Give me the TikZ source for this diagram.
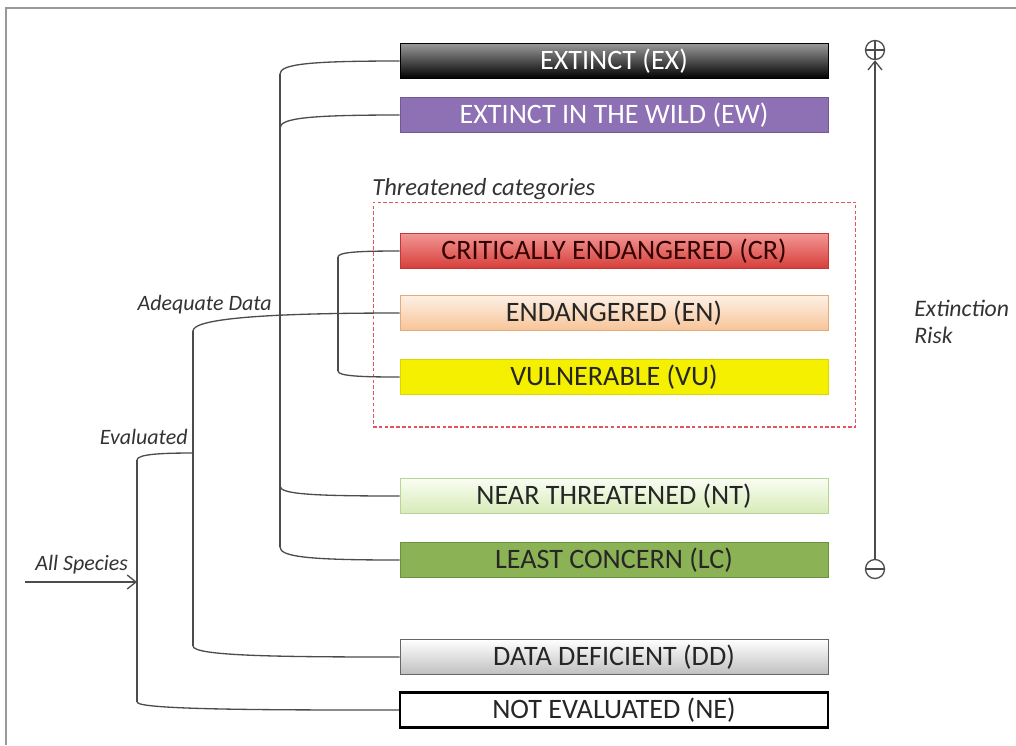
\documentclass[tikz,border=0pt]{standalone}
\usepackage{fontspec}
\setmainfont{Carlito}
\usepackage{tikz}
\usetikzlibrary{arrows.meta}
\usetikzlibrary{calc}

\definecolor{ewpurple}{RGB}{142,112,180}
\definecolor{crtop}{RGB}{242,150,148}
\definecolor{crbot}{RGB}{214,62,58}
\definecolor{entop}{RGB}{253,240,228}
\definecolor{enbot}{RGB}{247,196,152}
\definecolor{endraw}{RGB}{228,170,122}
\definecolor{vuyellow}{RGB}{245,240,0}
\definecolor{nttop}{RGB}{250,253,242}
\definecolor{ntbot}{RGB}{214,235,184}
\definecolor{ntdraw}{RGB}{185,212,148}
\definecolor{lcgreen}{RGB}{140,178,86}
\definecolor{lcdraw}{RGB}{108,144,60}
\definecolor{threatred}{RGB}{226,84,96}

\begin{document}
\begin{tikzpicture}[x=0.02cm, y=-0.02cm,
        box_style/.style={rectangle, draw, minimum width=8.56cm, minimum height=0.7cm, inner sep=0pt, font=\fontsize{16}{18}\selectfont, text=black!85},
        link_style/.style={draw=black!70, line width=0.75pt},
        label_style/.style={font=\fontsize{12.5}{14.5}\selectfont\itshape, inner sep=0pt, text=black!80},
        sign_style/.style={circle, draw=black!70, line width=0.75pt, minimum size=0.38cm, inner sep=0pt},
        frame_style/.style={draw=black!40, line width=1.6pt}]

        \useasboundingbox (0,0) rectangle (1016,745);
        \draw [frame_style] (6,745) -- (6,8) -- (1016,8);

        % category boxes
        \node [box_style, draw=black, top color=black!40, bottom color=black, text=white](ex) at (614,61) {EXTINCT (EX)};
        \node [box_style, draw=ewpurple!80!black, fill=ewpurple, text=white](ew) at (614,115) {EXTINCT IN THE WILD (EW)};
        \node [box_style, draw=crbot!90!black, top color=crtop, bottom color=crbot, text=black!80!red](cr) at (614,251) {CRITICALLY ENDANGERED (CR)};
        \node [box_style, draw=endraw, top color=entop, bottom color=enbot](en) at (614,313) {ENDANGERED (EN)};
        \node [box_style, draw=vuyellow!90!black, fill=vuyellow](vu) at (614,377) {VULNERABLE (VU)};
        \node [box_style, draw=ntdraw, top color=nttop, bottom color=ntbot](nt) at (614,496) {NEAR THREATENED (NT)};
        \node [box_style, draw=lcdraw, fill=lcgreen](lc) at (614,560) {LEAST CONCERN (LC)};
        \node [box_style, draw=black!60, top color=white, bottom color=black!25](dd) at (614,657) {DATA DEFICIENT (DD)};
        \node [box_style, draw=black, line width=1.4pt, fill=white](ne) at (614,710) {NOT EVALUATED (NE)};

        % threatened group
        \node [draw=threatred, dash pattern=on 2pt off 1.3pt, line width=0.6pt, minimum width=9.66cm, minimum height=4.5cm](threat) at (614.5,314.5) {};
        \node [label_style, font=\fontsize{14}{16}\selectfont\itshape, anchor=base west](threat_label) at (372,195) {Threatened categories};

        % adequate data trunk
        \coordinate (ad_top) at (280,74);
        \coordinate (ad_ew) at (280,128);
        \coordinate (ad_nt) at (280,486);
        \coordinate (ad_bot) at (280,547);
        \draw [link_style] (ad_top) -- (ad_bot);
        \draw [link_style] (ad_top) .. controls +(0,-10) and +(-90,0) .. (ex.west);
        \draw [link_style] (ad_ew) .. controls +(0,-10) and +(-90,0) .. (ew.west);
        \draw [link_style] (ad_nt) .. controls +(0,8) and +(-90,0) .. (nt.west);
        \draw [link_style] (ad_bot) .. controls +(0,10) and +(-90,0) .. (lc.west);

        % threatened trunk
        \coordinate (th_top) at (338,257);
        \coordinate (th_bot) at (338,371);
        \draw [link_style] (th_top) -- (th_bot);
        \draw [link_style] (th_top) .. controls +(0,-5) and +(-40,0) .. (cr.west);
        \draw [link_style] (th_bot) .. controls +(0,5) and +(-40,0) .. (vu.west);

        % data deficient trunk
        \coordinate (dd_top) at (193,331);
        \coordinate (dd_bot) at (193,646);
        \draw [link_style] (dd_top) -- (dd_bot);
        \draw [link_style] (dd_top) .. controls +(0,-10) and +(-160,0) .. (en.west);
        \draw [link_style] (dd_bot) .. controls +(0,10) and +(-120,0) .. (dd.west);

        % evaluated trunk
        \coordinate (ev_top) at (137,460);
        \coordinate (ev_join) at (193,453);
        \coordinate (ev_bot) at (137,702);
        \draw [link_style] (ev_top) -- (ev_bot);
        \draw [link_style] (ev_top) .. controls +(0,-6) and +(-30,0) .. (ev_join);
        \draw [link_style] (ev_bot) .. controls +(0,8) and +(-120,0) .. (ne.west);

        \coordinate (start) at (25,582);
        \draw [link_style, -{Straight Barb[length=5pt,width=8pt]}] (start) -- (start -| ev_top);

        \node [label_style, anchor=base east](adequate) at (272,310) {Adequate Data};
        \node [label_style, anchor=base east](evaluated) at (188,444) {Evaluated};
        \node [label_style, anchor=base west](all_species) at (35,570) {All Species};

        % extinction risk axis
        \node [sign_style, path picture={\draw [black!70, line width=0.75pt] (path picture bounding box.west) -- (path picture bounding box.east) (path picture bounding box.north) -- (path picture bounding box.south);}](plus) at (875,50) {};
        \node [sign_style, path picture={\draw [black!70, line width=0.75pt] (path picture bounding box.west) -- (path picture bounding box.east);}](minus) at (875,569) {};
        \draw [link_style, -{Straight Barb[length=5pt,width=8pt]}] (minus) -- (plus);
        \node [label_style, font=\fontsize{13.5}{15}\selectfont\itshape, anchor=west, align=left](risk) at (914,322) {Extinction\\Risk};

\end{tikzpicture}
\end{document}
